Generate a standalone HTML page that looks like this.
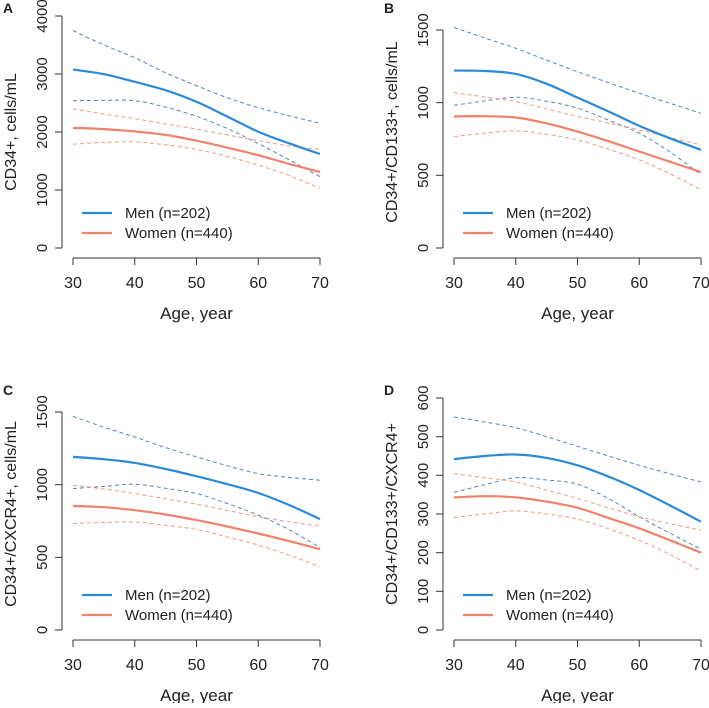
<!DOCTYPE html>
<html><head><meta charset="utf-8"><style>
body{margin:0;background:#fff}
svg text{font-family:"Liberation Sans",Arial,sans-serif;fill:#222}
</style></head><body>
<svg id="chart" width="709" height="703" viewBox="0 0 709 703" xmlns="http://www.w3.org/2000/svg"></svg>
<script>
const ages = [30,35,40,45,50,55,60,65,70];
const xTicks = [30,40,50,60,70];
const panelLabels = ["A","B","C","D"];
const yTitles = ["CD34+, cells/mL","CD34+/CD133+, cells/mL","CD34+/CXCR4+, cells/mL","CD34+/CD133+/CXCR4+"];
const yTicksA = [0,1000,2000,3000,4000];
const yTicksB = [0,500,1000,1500];
const yTicksC = [0,500,1000,1500];
const yTicksD = [0,100,200,300,400,500,600];

const menA = [3077,2997,2865,2720,2520,2265,2005,1805,1620];
const menUpA = [3750,3500,3280,3020,2800,2590,2420,2280,2150];
const menLoA = [2540,2545,2540,2430,2270,2060,1800,1520,1230];
const womenA = [2070,2050,2010,1950,1850,1730,1600,1450,1310];
const womenUpA = [2400,2310,2230,2140,2050,1950,1850,1760,1700];
const womenLoA = [1790,1820,1830,1780,1700,1580,1430,1250,1030];

const menB = [1221,1218,1198,1130,1035,940,840,755,675];
const menUpB = [1518,1445,1374,1293,1213,1138,1065,995,927];
const menLoB = [982,1012,1037,1010,962,880,790,660,504];
const womenB = [905,907,898,858,801,735,664,593,522];
const womenUpB = [1069,1040,1008,958,905,860,813,760,710];
const womenLoB = [767,790,806,782,744,680,607,510,401];

const menC = [1191,1175,1150,1108,1058,1003,943,860,763];
const menUpC = [1470,1395,1328,1255,1191,1130,1076,1050,1031];
const menLoC = [973,988,1003,975,939,870,790,690,568];
const womenC = [854,845,824,795,756,712,664,612,556];
const womenUpC = [996,970,939,902,866,823,779,745,714];
const womenLoC = [733,740,744,720,692,640,584,515,435];

const menD = [442,450,454,445,426,397,362,322,280];
const menUpD = [551,538,523,500,475,450,426,404,383];
const menLoD = [356,376,394,388,377,340,293,250,209];
const womenD = [343,346,343,332,316,290,263,232,200];
const womenUpD = [404,394,383,362,340,316,293,275,258];
const womenLoD = [291,300,308,300,287,262,232,195,152];

const panels = [
 {ox:0,oy:0,ticks:yTicksA,top:16,series:[menUpA,menLoA,womenUpA,womenLoA,menA,womenA]},
 {ox:381,oy:0,ticks:yTicksB,top:30,series:[menUpB,menLoB,womenUpB,womenLoB,menB,womenB]},
 {ox:0,oy:382,ticks:yTicksC,top:30,series:[menUpC,menLoC,womenUpC,womenLoC,menC,womenC]},
 {ox:381,oy:382,ticks:yTicksD,top:16,series:[menUpD,menLoD,womenUpD,womenLoD,menD,womenD]}
];
const seriesNames=["men-upper-ci","men-lower-ci","women-upper-ci","women-lower-ci","men-line","women-line"];
const seriesStyle=[
 {c:"#5a85b5",w:1,d:"4,3"},{c:"#5a85b5",w:1,d:"4,3"},
 {c:"#f09a85",w:1,d:"4,3"},{c:"#f09a85",w:1,d:"4,3"},
 {c:"#2a8ad8",w:2.2,d:null},{c:"#f0826a",w:2.2,d:null}];
const NS="http://www.w3.org/2000/svg";
const svg=document.getElementById("chart");
function mk(tag,attrs,parent){const e=document.createElementNS(NS,tag);for(const k in attrs)e.setAttribute(k,attrs[k]);(parent||svg).appendChild(e);return e;}
function smooth(pts){let d="M"+pts[0][0]+","+pts[0][1];for(let i=0;i<pts.length-1;i++){const p0=pts[Math.max(0,i-1)],p1=pts[i],p2=pts[i+1],p3=pts[Math.min(pts.length-1,i+2)];
 const c1=[p1[0]+(p2[0]-p0[0])/6,p1[1]+(p2[1]-p0[1])/6],c2=[p2[0]-(p3[0]-p1[0])/6,p2[1]-(p3[1]-p1[1])/6];
 d+=" C"+c1[0].toFixed(1)+","+c1[1].toFixed(1)+" "+c2[0].toFixed(1)+","+c2[1].toFixed(1)+" "+p2[0].toFixed(1)+","+p2[1].toFixed(1);}return d;}
panels.forEach((p,pi)=>{
 const g=mk("g",{transform:`translate(${p.ox},${p.oy})`});
 
 
 const tmax=p.ticks[p.ticks.length-1];
 const y=v=>248-(v/tmax)*(248-p.top);
 const x=a=>73+(a-30)/40*247;
 const lab=mk("text",{x:3,y:13,"font-size":"14","font-weight":"bold"},g);lab.textContent=panelLabels[pi];
 
 const ya=mk("g",{},g);
 mk("line",{x1:62,x2:62,y1:y(0),y2:y(tmax),stroke:"#333","stroke-width":1},ya);
 p.ticks.forEach(t=>{mk("line",{x1:55,x2:62,y1:y(t),y2:y(t),stroke:"#333"},ya);
  const tx=mk("text",{transform:`translate(47,${y(t)}) rotate(-90)`,"text-anchor":"middle","font-size":"15"},ya);tx.textContent=t;
  });
 const yt=mk("text",{transform:`translate(16,132) rotate(-90)`,"text-anchor":"middle","font-size":"16"},g);yt.textContent=yTitles[pi];
 
 const xa=mk("g",{},g);
 mk("line",{x1:x(30),x2:x(70),y1:258,y2:258,stroke:"#333"},xa);
 xTicks.forEach(t=>{mk("line",{x1:x(t),x2:x(t),y1:258,y2:265,stroke:"#333"},xa);
  const tx=mk("text",{x:x(t),y:288,"text-anchor":"middle","font-size":"16"},xa);tx.textContent=t;
  });
 const xt=mk("text",{x:x(50),y:319,"text-anchor":"middle","font-size":"17"},g);xt.textContent="Age, year";
 
 p.series.forEach((s,si)=>{const st=seriesStyle[si];
  const path=mk("path",{d:smooth(s.map((v,i)=>[x(ages[i]),y(v)])),fill:"none",stroke:st.c,"stroke-width":st.w},g);
  if(st.d)path.setAttribute("stroke-dasharray",st.d);
  });
 const lg=mk("g",{},g);
 [["Men (n=202)","#2a8ad8",213],["Women (n=440)","#f0826a",233]].forEach(l=>{
  mk("line",{x1:82,x2:112,y1:l[2],y2:l[2],stroke:l[1],"stroke-width":2.2},lg);
  const t=mk("text",{x:125,y:l[2]+5,"font-size":"15"},lg);t.textContent=l[0];
  });
});
</script>
</body></html>
